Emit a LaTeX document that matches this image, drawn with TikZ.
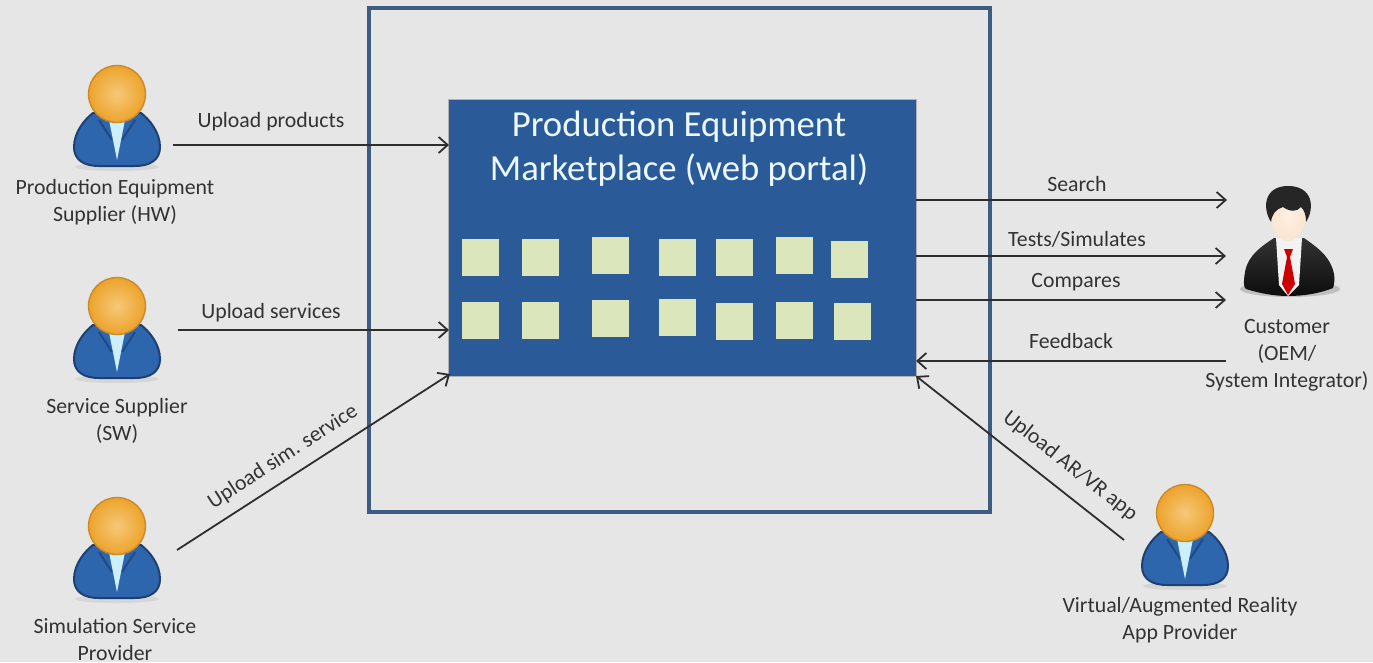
\documentclass[tikz,border=0pt]{standalone}
\usepackage{fontspec}
\setmainfont{Carlito}
\usetikzlibrary{arrows.meta,shadings}
\definecolor{bgc}{HTML}{E6E6E6}
\definecolor{portalc}{HTML}{2A5A98}
\definecolor{framec}{HTML}{3D5C84}
\definecolor{tilec}{HTML}{DCE6BC}
\definecolor{inkc}{HTML}{2E2E2E}
\definecolor{textc}{HTML}{333333}
\definecolor{suitc}{HTML}{2E66AE}
\definecolor{suitd}{HTML}{1F4A86}
\definecolor{suite}{HTML}{1E3F70}
\definecolor{headi}{HTML}{F6C878}
\definecolor{heado}{HTML}{EDA32C}
\definecolor{heade}{HTML}{C98A2A}
\tikzset{
  x=1pt,y=-1pt,
  lab/.style={text=textc,font=\fontsize{21.8}{27}\selectfont,align=center,inner sep=0pt},
  tile/.style={fill=tilec,draw=none,minimum size=36.5pt,inner sep=0pt,anchor=north west},
  conn/.style={draw=inkc,line width=1.8pt,-{Straight Barb[length=9pt,width=16pt,line width=1.8pt]}},
}
% person with the orange head: #1 name, #2 x of head centre, #3 y of head centre
\newcommand{\orangeperson}[3]{%
  \begin{scope}[shift={(#2,#3)}]
    \fill[black!25,opacity=.4] (0,73) ellipse (42 and 4);
    \path[fill=suitc,draw=suite,line width=2pt]
      (-24,19) .. controls (-32,25) and (-43,38) .. (-43,53)
      .. controls (-43,66) and (-33,72) .. (-18,72)
      -- (18,72) .. controls (33,72) and (43,66) .. (43,53)
      .. controls (43,38) and (32,25) .. (24,19) -- cycle;
    \draw[suitd,line width=2pt] (-18,26) -- (-5,46) (18,26) -- (5,46);
    \fill[white!80!cyan] (-8,26) -- (8,26) -- (0,66) -- cycle;
    \shade[inner color=headi,outer color=heado,draw=heade,line width=1.4pt]
      (0,0) circle (28.5);
    \node[minimum width=86pt,minimum height=102pt,inner sep=0pt,anchor=center] (#1) at (0,22) {};
  \end{scope}}
\begin{document}
\begin{tikzpicture}
\useasboundingbox (0,0) rectangle (1373,662);
\fill[bgc] (0,0) rectangle (1373,662);
\draw[framec,line width=3.5pt] (369,8) rectangle (990,512);

% portal
\node[fill=portalc,draw=black!30,line width=.6pt,inner sep=0pt,minimum width=468pt,minimum height=277pt,anchor=north west] (portal) at (448,99) {};
\node[text=white!92!cyan,font=\fontsize{36.7}{44}\selectfont,align=center,inner sep=0pt,anchor=center] (title) at (679,149) {Production Equipment\\Marketplace (web portal)};

% tiles
\node[tile] (a1) at (462,239) {};
\node[tile] (a2) at (522,239) {};
\node[tile] (a3) at (592,237) {};
\node[tile] (a4) at (659,239) {};
\node[tile] (a5) at (716,239) {};
\node[tile] (a6) at (776,237) {};
\node[tile] (a7) at (831,241) {};
\node[tile] (b1) at (462,302) {};
\node[tile] (b2) at (522,302) {};
\node[tile] (b3) at (592,300) {};
\node[tile] (b4) at (659,299) {};
\node[tile] (b5) at (716,303) {};
\node[tile] (b6) at (776,302) {};
\node[tile] (b7) at (834,303) {};

% people
\orangeperson{hw}{117}{94}
\orangeperson{sw}{117}{306}
\orangeperson{sim}{117}{526}
\orangeperson{ar}{1185}{513}

% customer
\begin{scope}
  \fill[black!35,opacity=.6] (1290,289) ellipse (50 and 8);
  \path[top color=black!80,bottom color=black!95,draw=none]
    (1274,238) .. controls (1262,246) and (1248,255) .. (1245,272)
    .. controls (1243,284) and (1244,288) .. (1246,289)
    .. controls (1262,294) and (1276,296) .. (1288,296)
    .. controls (1302,296) and (1318,294) .. (1333,288)
    .. controls (1335,282) and (1335,276) .. (1333,270)
    .. controls (1328,254) and (1315,246) .. (1304,238) -- cycle;
  \fill[white!90!gray] (1276,238) -- (1302,238) -- (1299,285) -- (1288,296) -- (1279,285) -- cycle;
  \fill[red!80!black] (1284,249) -- (1293,249) -- (1290,257) -- (1295,284) -- (1288,295) -- (1282,284) -- (1287,257) -- cycle;
  \shade[inner color=white!88!orange,outer color=black!15!orange!18!white]
    (1269,205) .. controls (1269,225) and (1278,241) .. (1288,241)
    .. controls (1299,241) and (1308,225) .. (1308,205)
    .. controls (1308,190) and (1269,190) .. (1269,205) -- cycle;
  \fill[black!85] (1271,222)
    .. controls (1262,208) and (1264,186) .. (1288,186)
    .. controls (1313,186) and (1315,208) .. (1306,222)
    .. controls (1306,214) and (1304,210) .. (1301,207)
    .. controls (1297,212) and (1290,212) .. (1283,207)
    .. controls (1276,209) and (1272,214) .. (1271,222) -- cycle;
  \node[minimum width=92pt,minimum height=110pt,inner sep=0pt] (cust) at (1289,241) {};
\end{scope}

% port coordinates
\coordinate (hwout) at (173,145);
\coordinate (hwin) at (449,145);
\coordinate (swout) at (178,330);
\coordinate (swin) at (449,330);
\coordinate (simout) at (177,550);
\coordinate (simin) at (450,374);
\coordinate (sr1) at (916,200);
\coordinate (sr2) at (1227,200);
\coordinate (te1) at (916,256);
\coordinate (te2) at (1226,256);
\coordinate (co1) at (916,300);
\coordinate (co2) at (1226,300);
\coordinate (fb1) at (1226,361);
\coordinate (fb2) at (916,361);
\coordinate (arout) at (1124,540);
\coordinate (arin) at (916,376);

% connectors
\draw[conn] (hwout) -- (hwin);
\draw[conn] (swout) -- (swin);
\draw[conn] (simout) -- (simin);
\draw[conn] (sr1) -- (sr2);
\draw[conn] (te1) -- (te2);
\draw[conn] (co1) -- (co2);
\draw[conn] (fb1) -- (fb2);
\draw[conn] (arout) -- (arin);

% labels
\node[lab] (l1) at (271,122) {Upload products};
\node[lab] (l2) at (271,313) {Upload services};
\node[lab,rotate=33] (l3) at (283,457) {Upload sim. service};
\node[lab] (l4) at (1077,184) {Search};
\node[lab] (l5) at (1077,239) {Tests/Simulates};
\node[lab] (l6) at (1076,282) {Compares};
\node[lab] (l7) at (1071,341) {Feedback};
\node[lab,rotate=-38] (l8) at (1070,466) {Upload AR/VR app};
\node[lab] (n1) at (115,202) {Production Equipment\\Supplier (HW)};
\node[lab] (n2) at (117,421) {Service Supplier\\(SW)};
\node[lab] (n3) at (115,639) {Simulation Service\\Provider};
\node[lab] (n4) at (1180,620) {Virtual/Augmented Reality\\App Provider};
\node[lab] (n5) at (1287,355) {Customer\\(OEM/\\System Integrator)};
\end{tikzpicture}
\end{document}
